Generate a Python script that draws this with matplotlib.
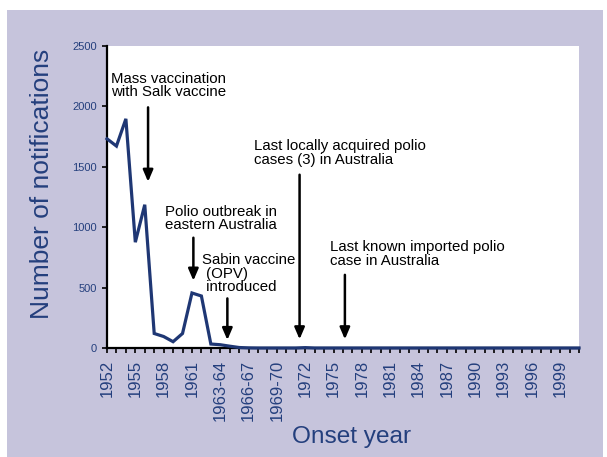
import matplotlib
matplotlib.use("Agg")
import matplotlib.pyplot as plt
from matplotlib.patches import Rectangle
from matplotlib.ticker import FixedLocator, NullFormatter

plt.rcParams['font.family'] = ['Liberation Sans', 'DejaVu Sans']

# ---- data ----
categories = [str(y) for y in range(1952, 1963)] + \
    [f"{y}-{str(y + 1)[2:]}" for y in range(1962, 1971)] + \
    [str(y) for y in range(1971, 2002)]
notifications = [1730, 1670, 1895, 875, 1185, 120, 95, 52, 120, 455,
                 430, 33, 27, 15, 4, 1, 0, 0, 0, 0,
                 0, 3, 0, 0, 0, 0, 0, 0, 0, 0,
                 0, 0, 0, 0, 0, 0, 0, 0, 0, 0,
                 0, 0, 0, 0, 0, 0, 0, 0, 0, 0,
                 0]
yticks = [0, 500, 1000, 1500, 2000, 2500]
label_every = 3

annotations = [
    # text, text x (index), text y (value), arrow x (index), arrow top, arrow tip
    ("Mass vaccination\nwith Salk vaccine", 0.45, 2285, 4.35, 1990, 1375),
    ("Polio outbreak in\neastern Australia", 6.1, 1185, 9.15, 912, 557),
    ("Sabin vaccine\n (OPV)\n introduced", 10.1, 785, 12.75, 410, 66),
    ("Last locally acquired polio\ncases (3) in Australia", 15.6, 1725, 20.4, 1433, 72),
    ("Last known imported polio\ncase in Australia", 23.6, 890, 25.2, 605, 72),
]

NAVY_TXT = '#243f7d'
NAVY_LINE = '#1f3774'
BG = '#c6c4dc'

W, H = 607, 457
fig = plt.figure(figsize=(W / 100, H / 100), dpi=100)
fig.patch.set_facecolor('white')
fig.patches.append(Rectangle((7 / W, 0), (603 - 7) / W, (H - 10) / H,
                             transform=fig.transFigure, facecolor=BG,
                             edgecolor='none', zorder=-10))

ax = fig.add_axes([107 / W, 1 - 348 / H, (579 - 107) / W, (348 - 45.7) / H])
ax.set_facecolor('white')

x = list(range(len(categories)))
ax.plot(x, notifications, color=NAVY_LINE, lw=2.3, solid_joinstyle='miter',
        zorder=3, clip_on=False)

ax.set_xlim(0, len(categories) - 1)
ax.set_ylim(0, 2500)

for s in ['top', 'right']:
    ax.spines[s].set_visible(False)
for s in ['left', 'bottom']:
    ax.spines[s].set_color('black')
    ax.spines[s].set_linewidth(1.6)

major = x[::label_every]
ax.xaxis.set_major_locator(FixedLocator(major))
ax.set_xticklabels([categories[i] for i in major], rotation=90,
                   fontsize=12, color=NAVY_TXT)
ax.xaxis.set_minor_locator(FixedLocator(x))
ax.xaxis.set_minor_formatter(NullFormatter())
ax.tick_params(axis='x', which='both', direction='out', length=3.5,
               width=1.2, color='black', pad=5)
ax.set_yticks(yticks)
ax.set_yticklabels([str(v) for v in yticks], fontsize=8, color=NAVY_TXT)
ax.tick_params(axis='y', direction='out', length=3.5, width=1.2,
               color='black', pad=4)

fig.text(42.5 / W, 1 - 184 / H, "Number of notifications", rotation=90,
         ha='center', va='center', fontsize=19, color=NAVY_TXT)
fig.text(352 / W, 1 - 437 / H, "Onset year", ha='center', va='center',
         fontsize=17.6, color=NAVY_TXT)

for txt, tx, ty, axx, top, tip in annotations:
    ax.text(tx, ty, txt, ha='left', va='top', fontsize=10.8, color='black',
            linespacing=0.95, zorder=5)
    ax.annotate("", xy=(axx, tip), xytext=(axx, top),
                arrowprops=dict(arrowstyle='-|>,head_length=0.7,head_width=0.3',
                                color='black', lw=1.8, shrinkA=0, shrinkB=0),
                zorder=5)

fig.savefig("out.png", dpi=100, facecolor=fig.get_facecolor())
